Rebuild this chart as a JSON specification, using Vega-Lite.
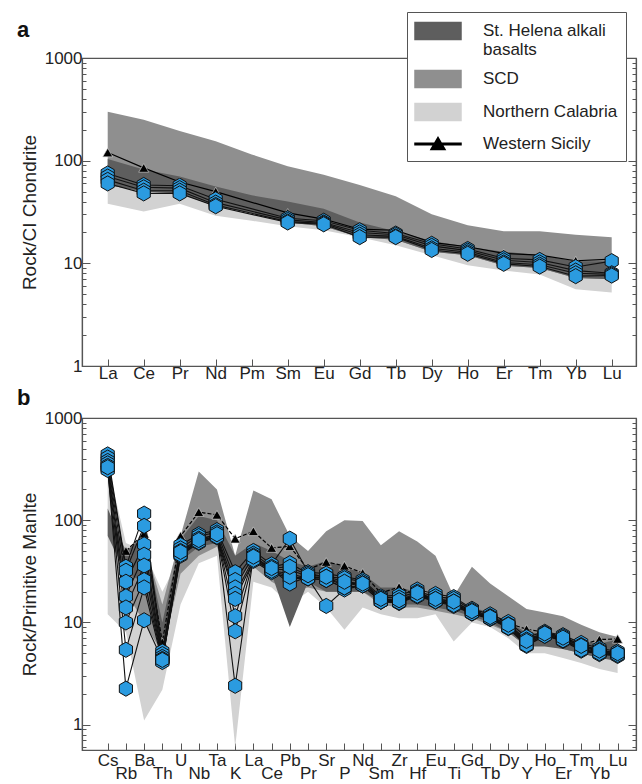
{
  "$schema": "https://vega.github.io/schema/vega-lite/v6.json",
  "background": "white",
  "padding": {"left": 16, "top": 10, "right": 5, "bottom": 0},
  "spacing": 52,
  "bounds": "flush",
  "config": {
    "view": {"stroke": "#555555", "strokeWidth": 1.2},
    "axis": {"domainColor": "#555555", "tickColor": "#555555", "labelFont": "Liberation Sans", "titleFont": "Liberation Sans", "labelColor": "#222222", "titleColor": "#222222", "grid": false, "domainWidth": 1.2, "titleFontWeight": "normal"},
    "legend": {"labelFont": "Liberation Sans"}
  },
  "datasets": {
    "bandsA": [
      {"i":0,"grp":"Northern Calabria","lo":38,"hi":62},{"i":1,"grp":"Northern Calabria","lo":32,"hi":50},{"i":2,"grp":"Northern Calabria","lo":38,"hi":50},{"i":3,"grp":"Northern Calabria","lo":29,"hi":37},{"i":4,"grp":"Northern Calabria","lo":26,"hi":32},{"i":5,"grp":"Northern Calabria","lo":23,"hi":26},{"i":6,"grp":"Northern Calabria","lo":21,"hi":24},{"i":7,"grp":"Northern Calabria","lo":18,"hi":19},{"i":8,"grp":"Northern Calabria","lo":15,"hi":17.5},{"i":9,"grp":"Northern Calabria","lo":12,"hi":13.5},{"i":10,"grp":"Northern Calabria","lo":9.6,"hi":12},{"i":11,"grp":"Northern Calabria","lo":8.5,"hi":10},{"i":12,"grp":"Northern Calabria","lo":7.8,"hi":9.5},{"i":13,"grp":"Northern Calabria","lo":5.6,"hi":8},{"i":14,"grp":"Northern Calabria","lo":5.2,"hi":7.5},
      {"i":0,"grp":"SCD","lo":58,"hi":300},{"i":1,"grp":"SCD","lo":50,"hi":250},{"i":2,"grp":"SCD","lo":48,"hi":195},{"i":3,"grp":"SCD","lo":36,"hi":155},{"i":4,"grp":"SCD","lo":31,"hi":115},{"i":5,"grp":"SCD","lo":25,"hi":88},{"i":6,"grp":"SCD","lo":23,"hi":73},{"i":7,"grp":"SCD","lo":18,"hi":58},{"i":8,"grp":"SCD","lo":17,"hi":45},{"i":9,"grp":"SCD","lo":13,"hi":30},{"i":10,"grp":"SCD","lo":12,"hi":23.5},{"i":11,"grp":"SCD","lo":9.5,"hi":20.5},{"i":12,"grp":"SCD","lo":9,"hi":20.5},{"i":13,"grp":"SCD","lo":7.2,"hi":19},{"i":14,"grp":"SCD","lo":7,"hi":18},
      {"i":0,"grp":"St. Helena alkali basalts","lo":58,"hi":104},{"i":1,"grp":"St. Helena alkali basalts","lo":50,"hi":82},{"i":2,"grp":"St. Helena alkali basalts","lo":48,"hi":70},{"i":3,"grp":"St. Helena alkali basalts","lo":36,"hi":56},{"i":4,"grp":"St. Helena alkali basalts","lo":31,"hi":46},{"i":5,"grp":"St. Helena alkali basalts","lo":25,"hi":40},{"i":6,"grp":"St. Helena alkali basalts","lo":23,"hi":34},{"i":7,"grp":"St. Helena alkali basalts","lo":18,"hi":25},{"i":8,"grp":"St. Helena alkali basalts","lo":17,"hi":20.5},{"i":9,"grp":"St. Helena alkali basalts","lo":13,"hi":16.5},{"i":10,"grp":"St. Helena alkali basalts","lo":12,"hi":14.5},{"i":11,"grp":"St. Helena alkali basalts","lo":9.5,"hi":13},{"i":12,"grp":"St. Helena alkali basalts","lo":9,"hi":12},{"i":13,"grp":"St. Helena alkali basalts","lo":7.2,"hi":10.5},{"i":14,"grp":"St. Helena alkali basalts","lo":7,"hi":10.5}
    ],
    "wsA": [
      {"i":0,"grp":"Western Sicily","v":120},{"i":1,"grp":"Western Sicily","v":85},{"i":2,"grp":"Western Sicily","v":62},{"i":3,"grp":"Western Sicily","v":50},{"i":5,"grp":"Western Sicily","v":31},{"i":6,"grp":"Western Sicily","v":27},{"i":7,"grp":"Western Sicily","v":21.5},{"i":8,"grp":"Western Sicily","v":21},{"i":9,"grp":"Western Sicily","v":16},{"i":10,"grp":"Western Sicily","v":14.5},{"i":11,"grp":"Western Sicily","v":12.5},{"i":12,"grp":"Western Sicily","v":12},{"i":13,"grp":"Western Sicily","v":10.6},{"i":14,"grp":"Western Sicily","v":11}
    ],
    "samplesA": [
      {"s":1,"i":0,"v":75},{"s":1,"i":1,"v":58},{"s":1,"i":2,"v":57},{"s":1,"i":3,"v":42},{"s":1,"i":5,"v":27.5},{"s":1,"i":6,"v":26},{"s":1,"i":7,"v":21},{"s":1,"i":8,"v":19.5},{"s":1,"i":9,"v":15.5},{"s":1,"i":10,"v":13.8},{"s":1,"i":11,"v":11.2},{"s":1,"i":12,"v":10.8},{"s":1,"i":13,"v":9.2},{"s":1,"i":14,"v":10.5},
      {"s":2,"i":0,"v":70},{"s":2,"i":1,"v":55},{"s":2,"i":2,"v":54},{"s":2,"i":3,"v":39},{"s":2,"i":5,"v":26.5},{"s":2,"i":6,"v":25},{"s":2,"i":7,"v":20},{"s":2,"i":8,"v":19},{"s":2,"i":9,"v":14.8},{"s":2,"i":10,"v":13.3},{"s":2,"i":11,"v":10.7},{"s":2,"i":12,"v":10.2},{"s":2,"i":13,"v":8.5},{"s":2,"i":14,"v":8},
      {"s":3,"i":0,"v":65},{"s":3,"i":1,"v":51},{"s":3,"i":2,"v":51},{"s":3,"i":3,"v":37},{"s":3,"i":5,"v":25.5},{"s":3,"i":6,"v":24.5},{"s":3,"i":7,"v":19},{"s":3,"i":8,"v":18.3},{"s":3,"i":9,"v":14},{"s":3,"i":10,"v":12.8},{"s":3,"i":11,"v":10.2},{"s":3,"i":12,"v":9.7},{"s":3,"i":13,"v":8},{"s":3,"i":14,"v":7.8},
      {"s":4,"i":0,"v":60},{"s":4,"i":1,"v":48},{"s":4,"i":2,"v":48},{"s":4,"i":3,"v":36},{"s":4,"i":5,"v":25},{"s":4,"i":6,"v":24},{"s":4,"i":7,"v":18},{"s":4,"i":8,"v":18},{"s":4,"i":9,"v":13.5},{"s":4,"i":10,"v":12.4},{"s":4,"i":11,"v":9.9},{"s":4,"i":12,"v":9.3},{"s":4,"i":13,"v":7.5},{"s":4,"i":14,"v":7.6}
    ],
    "bandsB": [
      {"i":0,"grp":"Northern Calabria","lo":12,"hi":350},{"i":1,"grp":"Northern Calabria","lo":8,"hi":60},{"i":2,"grp":"Northern Calabria","lo":1.1,"hi":50},{"i":3,"grp":"Northern Calabria","lo":2.2,"hi":20},{"i":4,"grp":"Northern Calabria","lo":15,"hi":45},{"i":5,"grp":"Northern Calabria","lo":38,"hi":55},{"i":6,"grp":"Northern Calabria","lo":45,"hi":60},{"i":7,"grp":"Northern Calabria","lo":0.6,"hi":40},{"i":8,"grp":"Northern Calabria","lo":25,"hi":50},{"i":9,"grp":"Northern Calabria","lo":22,"hi":45},{"i":10,"grp":"Northern Calabria","lo":15,"hi":40},{"i":11,"grp":"Northern Calabria","lo":20,"hi":35},{"i":12,"grp":"Northern Calabria","lo":14,"hi":35},{"i":13,"grp":"Northern Calabria","lo":8.5,"hi":30},{"i":14,"grp":"Northern Calabria","lo":14,"hi":28},{"i":15,"grp":"Northern Calabria","lo":12,"hi":20},{"i":16,"grp":"Northern Calabria","lo":11,"hi":22},{"i":17,"grp":"Northern Calabria","lo":11,"hi":20},{"i":18,"grp":"Northern Calabria","lo":12,"hi":18},{"i":19,"grp":"Northern Calabria","lo":6.5,"hi":17},{"i":20,"grp":"Northern Calabria","lo":10,"hi":14},{"i":21,"grp":"Northern Calabria","lo":9,"hi":12},{"i":22,"grp":"Northern Calabria","lo":7,"hi":10},{"i":23,"grp":"Northern Calabria","lo":5,"hi":7.5},{"i":24,"grp":"Northern Calabria","lo":5,"hi":7.5},{"i":25,"grp":"Northern Calabria","lo":4.5,"hi":7},{"i":26,"grp":"Northern Calabria","lo":4,"hi":6},{"i":27,"grp":"Northern Calabria","lo":3.5,"hi":5.5},{"i":28,"grp":"Northern Calabria","lo":3.2,"hi":5},
      {"i":1,"grp":"SCD","lo":20,"hi":45},{"i":2,"grp":"SCD","lo":10,"hi":60},{"i":3,"grp":"SCD","lo":5,"hi":15},{"i":4,"grp":"SCD","lo":30,"hi":70},{"i":5,"grp":"SCD","lo":45,"hi":300},{"i":6,"grp":"SCD","lo":55,"hi":200},{"i":7,"grp":"SCD","lo":20,"hi":45},{"i":8,"grp":"SCD","lo":35,"hi":195},{"i":9,"grp":"SCD","lo":25,"hi":160},{"i":10,"grp":"SCD","lo":20,"hi":70},{"i":11,"grp":"SCD","lo":22,"hi":50},{"i":12,"grp":"SCD","lo":20,"hi":78},{"i":13,"grp":"SCD","lo":20,"hi":100},{"i":14,"grp":"SCD","lo":20,"hi":98},{"i":15,"grp":"SCD","lo":15,"hi":57},{"i":16,"grp":"SCD","lo":14,"hi":78},{"i":17,"grp":"SCD","lo":14,"hi":62},{"i":18,"grp":"SCD","lo":13,"hi":45},{"i":19,"grp":"SCD","lo":12,"hi":18},{"i":20,"grp":"SCD","lo":11,"hi":35},{"i":21,"grp":"SCD","lo":9.5,"hi":24},{"i":22,"grp":"SCD","lo":8,"hi":18},{"i":23,"grp":"SCD","lo":6,"hi":13.5},{"i":24,"grp":"SCD","lo":6,"hi":12.5},{"i":25,"grp":"SCD","lo":5.5,"hi":11.5},{"i":26,"grp":"SCD","lo":5,"hi":9.5},{"i":27,"grp":"SCD","lo":4.5,"hi":8},{"i":28,"grp":"SCD","lo":4.3,"hi":7.2},
      {"i":0,"grp":"St. Helena alkali basalts","lo":70,"hi":130},{"i":1,"grp":"St. Helena alkali basalts","lo":30,"hi":50},{"i":2,"grp":"St. Helena alkali basalts","lo":25,"hi":70},{"i":3,"grp":"St. Helena alkali basalts","lo":4.5,"hi":10},{"i":4,"grp":"St. Helena alkali basalts","lo":40,"hi":65},{"i":5,"grp":"St. Helena alkali basalts","lo":55,"hi":110},{"i":6,"grp":"St. Helena alkali basalts","lo":60,"hi":100},{"i":7,"grp":"St. Helena alkali basalts","lo":25,"hi":45},{"i":8,"grp":"St. Helena alkali basalts","lo":40,"hi":60},{"i":9,"grp":"St. Helena alkali basalts","lo":30,"hi":50},{"i":10,"grp":"St. Helena alkali basalts","lo":9,"hi":40},{"i":11,"grp":"St. Helena alkali basalts","lo":25,"hi":35},{"i":12,"grp":"St. Helena alkali basalts","lo":20,"hi":40},{"i":13,"grp":"St. Helena alkali basalts","lo":20,"hi":35},{"i":14,"grp":"St. Helena alkali basalts","lo":20,"hi":30},{"i":15,"grp":"St. Helena alkali basalts","lo":16,"hi":22},{"i":16,"grp":"St. Helena alkali basalts","lo":15,"hi":22},{"i":17,"grp":"St. Helena alkali basalts","lo":15,"hi":20},{"i":18,"grp":"St. Helena alkali basalts","lo":14,"hi":18},{"i":19,"grp":"St. Helena alkali basalts","lo":13,"hi":17},{"i":20,"grp":"St. Helena alkali basalts","lo":11.5,"hi":14},{"i":21,"grp":"St. Helena alkali basalts","lo":10,"hi":12.5},{"i":22,"grp":"St. Helena alkali basalts","lo":8,"hi":10},{"i":23,"grp":"St. Helena alkali basalts","lo":5.8,"hi":8},{"i":24,"grp":"St. Helena alkali basalts","lo":5.8,"hi":7.8},{"i":25,"grp":"St. Helena alkali basalts","lo":5.5,"hi":7.3},{"i":26,"grp":"St. Helena alkali basalts","lo":5,"hi":6.5},{"i":27,"grp":"St. Helena alkali basalts","lo":4.5,"hi":6.2},{"i":28,"grp":"St. Helena alkali basalts","lo":4.2,"hi":6.8}
    ],
    "wsB": [
      {"i":1,"grp":"Western Sicily","v":50},{"i":2,"grp":"Western Sicily","v":74},{"i":3,"grp":"Western Sicily","v":6.4},{"i":4,"grp":"Western Sicily","v":70},{"i":5,"grp":"Western Sicily","v":120},{"i":6,"grp":"Western Sicily","v":113},{"i":7,"grp":"Western Sicily","v":66},{"i":8,"grp":"Western Sicily","v":78},{"i":9,"grp":"Western Sicily","v":53.5},{"i":10,"grp":"Western Sicily","v":55.6},{"i":11,"grp":"Western Sicily","v":33},{"i":12,"grp":"Western Sicily","v":39},{"i":13,"grp":"Western Sicily","v":35.8},{"i":14,"grp":"Western Sicily","v":30.5},{"i":15,"grp":"Western Sicily","v":19.4},{"i":16,"grp":"Western Sicily","v":22.2},{"i":17,"grp":"Western Sicily","v":18.2},{"i":18,"grp":"Western Sicily","v":17.1},{"i":19,"grp":"Western Sicily","v":14.7},{"i":20,"grp":"Western Sicily","v":13},{"i":21,"grp":"Western Sicily","v":12.2},{"i":22,"grp":"Western Sicily","v":9.8},{"i":23,"grp":"Western Sicily","v":8.6},{"i":24,"grp":"Western Sicily","v":8},{"i":25,"grp":"Western Sicily","v":7.2},{"i":26,"grp":"Western Sicily","v":6},{"i":27,"grp":"Western Sicily","v":6.8},{"i":28,"grp":"Western Sicily","v":6.9}
    ],
    "samplesB": [
      {"s":1,"i":0,"v":440},{"s":1,"i":1,"v":35},{"s":1,"i":2,"v":116},{"s":1,"i":3,"v":5.2},{"s":1,"i":4,"v":57},{"s":1,"i":5,"v":73},{"s":1,"i":6,"v":80},{"s":1,"i":7,"v":31},{"s":1,"i":8,"v":50},{"s":1,"i":9,"v":37},{"s":1,"i":10,"v":66},{"s":1,"i":11,"v":31},{"s":1,"i":12,"v":30},{"s":1,"i":13,"v":28},{"s":1,"i":14,"v":26},{"s":1,"i":15,"v":18},{"s":1,"i":16,"v":18.5},{"s":1,"i":17,"v":21},{"s":1,"i":18,"v":19},{"s":1,"i":19,"v":17.7},{"s":1,"i":20,"v":13.6},{"s":1,"i":21,"v":12},{"s":1,"i":22,"v":10.1},{"s":1,"i":23,"v":7.2},{"s":1,"i":24,"v":8.1},{"s":1,"i":25,"v":7.5},{"s":1,"i":26,"v":6.3},{"s":1,"i":27,"v":5.6},{"s":1,"i":28,"v":5.2},
      {"s":2,"i":0,"v":410},{"s":2,"i":1,"v":32},{"s":2,"i":2,"v":88},{"s":2,"i":3,"v":4.9},{"s":2,"i":4,"v":53},{"s":2,"i":5,"v":70},{"s":2,"i":6,"v":76},{"s":2,"i":7,"v":26},{"s":2,"i":8,"v":47},{"s":2,"i":9,"v":35},{"s":2,"i":10,"v":38},{"s":2,"i":11,"v":30},{"s":2,"i":12,"v":28},{"s":2,"i":13,"v":27},{"s":2,"i":14,"v":25},{"s":2,"i":15,"v":17.5},{"s":2,"i":16,"v":17.5},{"s":2,"i":17,"v":20},{"s":2,"i":18,"v":18},{"s":2,"i":19,"v":17},{"s":2,"i":20,"v":13.2},{"s":2,"i":21,"v":11.5},{"s":2,"i":22,"v":9.6},{"s":2,"i":23,"v":6.8},{"s":2,"i":24,"v":7.9},{"s":2,"i":25,"v":7.3},{"s":2,"i":26,"v":6},{"s":2,"i":27,"v":5.4},{"s":2,"i":28,"v":5},
      {"s":3,"i":0,"v":380},{"s":3,"i":1,"v":25},{"s":3,"i":2,"v":58},{"s":3,"i":3,"v":4.6},{"s":3,"i":4,"v":50},{"s":3,"i":5,"v":66},{"s":3,"i":6,"v":72},{"s":3,"i":7,"v":22},{"s":3,"i":8,"v":45},{"s":3,"i":9,"v":33},{"s":3,"i":10,"v":33},{"s":3,"i":11,"v":28},{"s":3,"i":12,"v":27},{"s":3,"i":13,"v":24},{"s":3,"i":14,"v":24},{"s":3,"i":15,"v":17},{"s":3,"i":16,"v":16},{"s":3,"i":17,"v":19},{"s":3,"i":18,"v":17},{"s":3,"i":19,"v":16},{"s":3,"i":20,"v":12.8},{"s":3,"i":21,"v":11.2},{"s":3,"i":22,"v":9.3},{"s":3,"i":23,"v":6.5},{"s":3,"i":24,"v":7.7},{"s":3,"i":25,"v":7},{"s":3,"i":26,"v":5.8},{"s":3,"i":27,"v":5.2},{"s":3,"i":28,"v":4.9},
      {"s":4,"i":0,"v":360},{"s":4,"i":1,"v":18},{"s":4,"i":2,"v":46},{"s":4,"i":3,"v":4.4},{"s":4,"i":4,"v":47},{"s":4,"i":5,"v":63},{"s":4,"i":6,"v":70},{"s":4,"i":7,"v":19},{"s":4,"i":8,"v":42},{"s":4,"i":9,"v":32},{"s":4,"i":10,"v":30},{"s":4,"i":11,"v":27},{"s":4,"i":12,"v":14.5},{"s":4,"i":13,"v":21},{"s":4,"i":14,"v":23},{"s":4,"i":15,"v":16},{"s":4,"i":16,"v":15.8},{"s":4,"i":17,"v":18.5},{"s":4,"i":18,"v":16.3},{"s":4,"i":19,"v":15},{"s":4,"i":20,"v":12.5},{"s":4,"i":21,"v":11},{"s":4,"i":22,"v":9},{"s":4,"i":23,"v":6.2},{"s":4,"i":24,"v":7.5},{"s":4,"i":25,"v":6.8},{"s":4,"i":26,"v":5.5},{"s":4,"i":27,"v":5},{"s":4,"i":28,"v":4.8},
      {"s":5,"i":0,"v":340},{"s":5,"i":1,"v":14},{"s":5,"i":2,"v":36},{"s":5,"i":3,"v":4.2},{"s":5,"i":4,"v":45},{"s":5,"i":5,"v":60},{"s":5,"i":6,"v":68},{"s":5,"i":7,"v":17},{"s":5,"i":8,"v":40},{"s":5,"i":9,"v":31},{"s":5,"i":10,"v":27},{"s":5,"i":11,"v":27},{"s":5,"i":12,"v":26},{"s":5,"i":13,"v":22},{"s":5,"i":14,"v":23},{"s":5,"i":15,"v":16},{"s":5,"i":16,"v":15.5},{"s":5,"i":17,"v":18},{"s":5,"i":18,"v":16},{"s":5,"i":19,"v":14.5},{"s":5,"i":20,"v":12.2},{"s":5,"i":21,"v":10.8},{"s":5,"i":22,"v":8.8},{"s":5,"i":23,"v":5.9},{"s":5,"i":24,"v":7.4},{"s":5,"i":25,"v":6.6},{"s":5,"i":26,"v":5.3},{"s":5,"i":27,"v":4.9},{"s":5,"i":28,"v":4.7},
      {"s":6,"i":0,"v":320},{"s":6,"i":1,"v":10},{"s":6,"i":2,"v":26},{"s":6,"i":3,"v":4.3},{"s":6,"i":4,"v":48},{"s":6,"i":5,"v":62},{"s":6,"i":6,"v":71},{"s":6,"i":7,"v":11.5},{"s":6,"i":8,"v":43},{"s":6,"i":9,"v":33},{"s":6,"i":10,"v":24},{"s":6,"i":11,"v":28},{"s":6,"i":12,"v":27},{"s":6,"i":13,"v":23},{"s":6,"i":14,"v":24},{"s":6,"i":15,"v":16.5},{"s":6,"i":16,"v":16},{"s":6,"i":17,"v":19},{"s":6,"i":18,"v":16.5},{"s":6,"i":19,"v":15.5},{"s":6,"i":20,"v":12.6},{"s":6,"i":21,"v":11},{"s":6,"i":22,"v":9.2},{"s":6,"i":23,"v":6.3},{"s":6,"i":24,"v":7.6},{"s":6,"i":25,"v":6.9},{"s":6,"i":26,"v":5.6},{"s":6,"i":27,"v":5.1},{"s":6,"i":28,"v":4.9},
      {"s":7,"i":0,"v":310},{"s":7,"i":1,"v":5.4},{"s":7,"i":2,"v":22},{"s":7,"i":3,"v":4.1},{"s":7,"i":4,"v":46},{"s":7,"i":5,"v":61},{"s":7,"i":6,"v":69},{"s":7,"i":7,"v":8.2},{"s":7,"i":8,"v":41},{"s":7,"i":9,"v":32},{"s":7,"i":10,"v":28},{"s":7,"i":11,"v":27},{"s":7,"i":12,"v":26},{"s":7,"i":13,"v":22},{"s":7,"i":14,"v":23},{"s":7,"i":15,"v":16},{"s":7,"i":16,"v":15.7},{"s":7,"i":17,"v":18.3},{"s":7,"i":18,"v":16.1},{"s":7,"i":19,"v":14.8},{"s":7,"i":20,"v":12.3},{"s":7,"i":21,"v":10.9},{"s":7,"i":22,"v":8.9},{"s":7,"i":23,"v":6},{"s":7,"i":24,"v":7.4},{"s":7,"i":25,"v":6.7},{"s":7,"i":26,"v":5.4},{"s":7,"i":27,"v":5},{"s":7,"i":28,"v":4.8},
      {"s":8,"i":0,"v":330},{"s":8,"i":1,"v":2.25},{"s":8,"i":2,"v":10.5},{"s":8,"i":3,"v":4.3},{"s":8,"i":4,"v":49},{"s":8,"i":5,"v":64},{"s":8,"i":6,"v":73},{"s":8,"i":7,"v":2.4},{"s":8,"i":8,"v":44},{"s":8,"i":9,"v":34},{"s":8,"i":10,"v":35},{"s":8,"i":11,"v":29},{"s":8,"i":12,"v":28},{"s":8,"i":13,"v":25},{"s":8,"i":14,"v":24},{"s":8,"i":15,"v":17},{"s":8,"i":16,"v":16.5},{"s":8,"i":17,"v":19.5},{"s":8,"i":18,"v":17},{"s":8,"i":19,"v":16},{"s":8,"i":20,"v":12.9},{"s":8,"i":21,"v":11.3},{"s":8,"i":22,"v":9.5},{"s":8,"i":23,"v":6.6},{"s":8,"i":24,"v":7.8},{"s":8,"i":25,"v":7.1},{"s":8,"i":26,"v":5.9},{"s":8,"i":27,"v":5.3},{"s":8,"i":28,"v":5}
    ]
  },
  "resolve": {"legend": {"color": "independent", "shape": "independent"}},
  "vconcat": [
    {
      "width": 554,
      "height": 308,
      "title": {"text": "a", "anchor": "start", "frame": "group", "fontSize": 22, "fontWeight": "bold", "font": "Liberation Sans", "dx": -65, "dy": 30, "offset": 0, "color": "#111111"},
      "resolve": {"axis": {"y": "independent"}},
      "encoding": {
        "x": {"field": "i", "type": "quantitative", "scale": {"domain": [-0.714, 14.675], "nice": false, "zero": false},
          "axis": {"title": null, "values": [0,1,2,3,4,5,6,7,8,9,10,11,12,13,14], "labelExpr": "['La','Ce','Pr','Nd','Pm','Sm','Eu','Gd','Tb','Dy','Ho','Er','Tm','Yb','Lu'][datum.value]", "tickSize": -7, "labelFontSize": 17, "labelPadding": 6, "labelAngle": 0, "labelFlush": false, "labelOverlap": false}}
      },
      "layer": [
        {
          "data": {"name": "bandsA"},
          "transform": [{"filter": "datum.grp == 'Northern Calabria'"}],
          "mark": {"type": "area", "opacity": 1},
          "encoding": {
            "y": {"field": "hi", "type": "quantitative", "scale": {"type": "log", "domain": [1, 1000], "nice": false},
              "axis": {"title": "Rock/CI Chondrite", "titleFontSize": 19, "titlePadding": 5, "values": [1,2,3,4,5,6,7,8,9,10,20,30,40,50,60,70,80,90,100,200,300,400,500,600,700,800,900,1000], "labelExpr": "datum.value == 1 ? '1' : datum.value == 10 ? '10' : datum.value == 100 ? '100' : datum.value == 1000 ? '1000' : ''", "labelFontSize": 17, "labelPadding": 8, "tickSize": {"condition": {"test": "indexof([1,10,100,1000], datum.value) >= 0", "value": -8}, "value": -4}}},
            "y2": {"field": "lo"},
            "color": {"field": "grp", "type": "nominal",
              "scale": {"domain": ["St. Helena alkali basalts", "SCD", "Northern Calabria", "Western Sicily"], "range": ["#5e5e5e", "#8f8f8f", "#d2d2d2", "#000000"]},
              "legend": {"title": null, "orient": "none", "legendX": 325, "legendY": -46, "strokeColor": "#555555", "fillColor": "white", "padding": 8, "labelFontSize": 17, "labelColor": "#222222", "labelLimit": 300, "symbolSize": 400, "symbolOpacity": 1, "symbolOffset": 12, "rowPadding": 9, "labelOffset": 34,
                "labelExpr": "datum.label == 'St. Helena alkali basalts' ? ['St. Helena alkali', 'basalts'] : datum.label"}}
          }
        },
        {
          "data": {"name": "bandsA"},
          "transform": [{"filter": "datum.grp == 'SCD'"}],
          "mark": {"type": "area", "opacity": 1},
          "encoding": {
            "y": {"field": "hi", "type": "quantitative", "scale": {"type": "log", "domain": [1, 1000], "nice": false},
              "axis": {"orient": "right", "title": null, "labels": false, "values": [1,2,3,4,5,6,7,8,9,10,20,30,40,50,60,70,80,90,100,200,300,400,500,600,700,800,900,1000], "tickSize": {"condition": {"test": "indexof([1,10,100,1000], datum.value) >= 0", "value": -8}, "value": -4}}},
            "y2": {"field": "lo"},
            "color": {"field": "grp", "type": "nominal"}
          }
        },
        {
          "data": {"name": "bandsA"},
          "transform": [{"filter": "datum.grp == 'St. Helena alkali basalts'"}],
          "mark": {"type": "area", "opacity": 1},
          "encoding": {
            "y": {"field": "hi", "type": "quantitative", "scale": {"type": "log", "domain": [1, 1000], "nice": false}, "axis": null},
            "y2": {"field": "lo"},
            "color": {"field": "grp", "type": "nominal"}
          }
        },
        {
          "data": {"name": "wsA"},
          "mark": {"type": "line", "strokeWidth": 1.2},
          "encoding": {
            "y": {"field": "v", "type": "quantitative", "scale": {"type": "log", "domain": [1, 1000], "nice": false}, "axis": null},
            "color": {"field": "grp", "type": "nominal"}
          }
        },
        {
          "data": {"name": "wsA"},
          "mark": {"type": "point", "shape": "triangle-up", "filled": true, "size": 100, "opacity": 1, "stroke": "#dddddd", "strokeWidth": 0.6},
          "encoding": {
            "y": {"field": "v", "type": "quantitative", "scale": {"type": "log", "domain": [1, 1000], "nice": false}, "axis": null},
            "color": {"field": "grp", "type": "nominal"}
          }
        },
        {
          "data": {"name": "samplesA"},
          "mark": {"type": "line", "color": "#111111", "strokeWidth": 1.1},
          "encoding": {
            "y": {"field": "v", "type": "quantitative", "scale": {"type": "log", "domain": [1, 1000], "nice": false}, "axis": null},
            "detail": {"field": "s", "type": "nominal"}
          }
        },
        {
          "data": {"name": "samplesA"},
          "mark": {"type": "point", "shape": "M0,-1L0.866,-0.5L0.866,0.5L0,1L-0.866,0.5L-0.866,-0.5Z", "filled": true, "fill": "#2b9be0", "stroke": "#111111", "strokeWidth": 1, "size": 230, "opacity": 1},
          "encoding": {
            "y": {"field": "v", "type": "quantitative", "scale": {"type": "log", "domain": [1, 1000], "nice": false}, "axis": null},
            "detail": {"field": "s", "type": "nominal"}
          }
        },
        {
          "data": {"name": "wsA"},
          "mark": {"type": "point", "filled": true, "size": 400, "opacity": 0},
          "encoding": {
            "y": {"field": "v", "type": "quantitative", "scale": {"type": "log", "domain": [1, 1000], "nice": false}, "axis": null},
            "color": {"field": "grp", "type": "nominal"},
            "shape": {"field": "grp", "type": "nominal",
              "scale": {"domain": ["St. Helena alkali basalts", "SCD", "Northern Calabria", "Western Sicily"], "range": ["M-2.3,-0.85H2.3V0.85H-2.3Z", "M-2.3,-0.85H2.3V0.85H-2.3Z", "M-2.3,-0.85H2.3V0.85H-2.3Z", "M-2.3,-0.07H2.3V0.07H-2.3ZM-0.7,0.55L0,-0.65L0.7,0.55Z"]},
              "legend": {"title": null, "orient": "none", "legendX": 325, "legendY": -46, "strokeColor": "#555555", "fillColor": "white", "padding": 8, "labelFontSize": 17, "labelColor": "#222222", "labelLimit": 300, "symbolSize": 400, "symbolOpacity": 1, "symbolOffset": 12, "rowPadding": 9, "labelOffset": 34,
                "labelExpr": "datum.label == 'St. Helena alkali basalts' ? ['St. Helena alkali', 'basalts'] : datum.label"}}
          }
        }
      ]
    },
    {
      "width": 554,
      "height": 332,
      "title": {"text": "b", "anchor": "start", "frame": "group", "fontSize": 22, "fontWeight": "bold", "font": "Liberation Sans", "dx": -65, "dy": 1, "offset": 0, "color": "#111111"},
      "resolve": {"axis": {"y": "independent"}},
      "encoding": {
        "x": {"field": "i", "type": "quantitative", "scale": {"domain": [-1.411, 29.01], "nice": false, "zero": false},
          "axis": {"title": null, "values": [0,1,2,3,4,5,6,7,8,9,10,11,12,13,14,15,16,17,18,19,20,21,22,23,24,25,26,27,28], "labelExpr": "['Cs','Rb','Ba','Th','U','Nb','Ta','K','La','Ce','Pb','Pr','Sr','P','Nd','Sm','Zr','Hf','Eu','Ti','Gd','Tb','Dy','Y','Ho','Er','Tm','Yb','Lu'][datum.value]", "tickSize": -7, "labelFontSize": 17, "labelPadding": {"condition": {"test": "datum.value % 2 == 1", "value": 22}, "value": 9}, "labelAngle": 0, "labelFlush": false, "labelOverlap": false}}
      },
      "layer": [
        {
          "data": {"name": "bandsB"},
          "transform": [{"filter": "datum.grp == 'Northern Calabria'"}],
          "mark": {"type": "area", "opacity": 1},
          "encoding": {
            "y": {"field": "hi", "type": "quantitative", "scale": {"type": "log", "domain": [0.565, 1000], "nice": false},
              "axis": {"title": "Rock/Primitive Manlte", "titleFontSize": 19, "titlePadding": 5, "values": [0.6,0.7,0.8,0.9,1,2,3,4,5,6,7,8,9,10,20,30,40,50,60,70,80,90,100,200,300,400,500,600,700,800,900,1000], "labelExpr": "datum.value == 1 ? '1' : datum.value == 10 ? '10' : datum.value == 100 ? '100' : datum.value == 1000 ? '1000' : ''", "labelFontSize": 17, "labelPadding": 8, "tickSize": {"condition": {"test": "indexof([1,10,100,1000], datum.value) >= 0", "value": -8}, "value": -4}}},
            "y2": {"field": "lo"},
            "color": {"field": "grp", "type": "nominal", "legend": null}
          }
        },
        {
          "data": {"name": "bandsB"},
          "transform": [{"filter": "datum.grp == 'SCD'"}],
          "mark": {"type": "area", "opacity": 1},
          "encoding": {
            "y": {"field": "hi", "type": "quantitative", "scale": {"type": "log", "domain": [0.565, 1000], "nice": false},
              "axis": {"orient": "right", "title": null, "labels": false, "values": [0.6,0.7,0.8,0.9,1,2,3,4,5,6,7,8,9,10,20,30,40,50,60,70,80,90,100,200,300,400,500,600,700,800,900,1000], "tickSize": {"condition": {"test": "indexof([1,10,100,1000], datum.value) >= 0", "value": -8}, "value": -4}}},
            "y2": {"field": "lo"},
            "color": {"field": "grp", "type": "nominal", "legend": null}
          }
        },
        {
          "data": {"name": "bandsB"},
          "transform": [{"filter": "datum.grp == 'St. Helena alkali basalts'"}],
          "mark": {"type": "area", "opacity": 1},
          "encoding": {
            "y": {"field": "hi", "type": "quantitative", "scale": {"type": "log", "domain": [0.565, 1000], "nice": false}, "axis": null},
            "y2": {"field": "lo"},
            "color": {"field": "grp", "type": "nominal", "legend": null}
          }
        },
        {
          "data": {"name": "wsB"},
          "mark": {"type": "line", "strokeWidth": 1.2, "strokeDash": [4, 2]},
          "encoding": {
            "y": {"field": "v", "type": "quantitative", "scale": {"type": "log", "domain": [0.565, 1000], "nice": false}, "axis": null},
            "color": {"field": "grp", "type": "nominal", "legend": null}
          }
        },
        {
          "data": {"name": "wsB"},
          "mark": {"type": "point", "shape": "triangle-up", "filled": true, "size": 100, "opacity": 1, "stroke": "#dddddd", "strokeWidth": 0.6},
          "encoding": {
            "y": {"field": "v", "type": "quantitative", "scale": {"type": "log", "domain": [0.565, 1000], "nice": false}, "axis": null},
            "color": {"field": "grp", "type": "nominal", "legend": null}
          }
        },
        {
          "data": {"name": "samplesB"},
          "mark": {"type": "line", "color": "#111111", "strokeWidth": 1.1},
          "encoding": {
            "y": {"field": "v", "type": "quantitative", "scale": {"type": "log", "domain": [0.565, 1000], "nice": false}, "axis": null},
            "detail": {"field": "s", "type": "nominal"}
          }
        },
        {
          "data": {"name": "samplesB"},
          "mark": {"type": "point", "shape": "M0,-1L0.866,-0.5L0.866,0.5L0,1L-0.866,0.5L-0.866,-0.5Z", "filled": true, "fill": "#2b9be0", "stroke": "#111111", "strokeWidth": 1, "size": 230, "opacity": 1},
          "encoding": {
            "y": {"field": "v", "type": "quantitative", "scale": {"type": "log", "domain": [0.565, 1000], "nice": false}, "axis": null},
            "detail": {"field": "s", "type": "nominal"}
          }
        }
      ]
    }
  ]
}
